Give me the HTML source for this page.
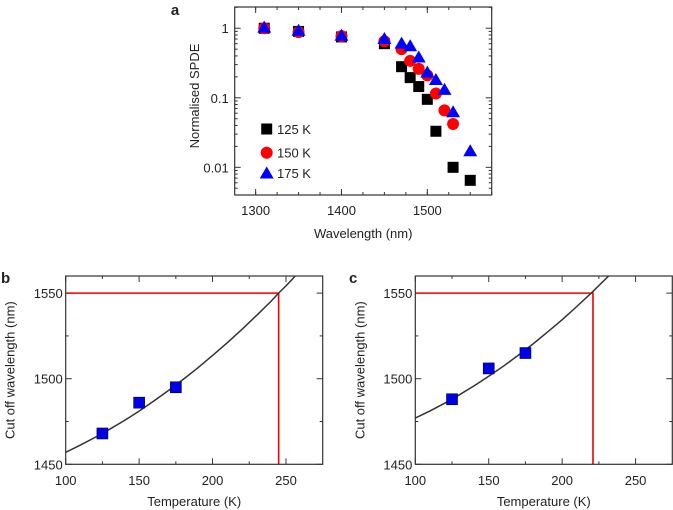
<!DOCTYPE html>
<html><head><meta charset="utf-8"><style>
body{margin:0;background:#fff;}
svg{display:block;font-family:"Liberation Sans",sans-serif;}
</style></head><body>
<svg id="s" width="673" height="510"></svg>
<script>
// Panel a data
const wlA=[1310,1350,1400,1450,1470,1480,1490,1500,1510,1530,1550];
const spde125=[1,0.9,0.75,0.6,0.28,0.195,0.145,0.095,0.033,0.01,0.0065];
const wlB=[1310,1350,1400,1450,1470,1480,1490,1500,1510,1520,1530];
const spde150=[1,0.88,0.77,0.65,0.5,0.34,0.26,0.21,0.115,0.066,0.042];
const wlC=[1310,1350,1400,1450,1470,1480,1490,1500,1510,1520,1530,1550];
const spde175=[1.02,0.92,0.78,0.7,0.6,0.55,0.38,0.23,0.18,0.13,0.062,0.017];
const xTicksA=[1300,1400,1500];
const yTicksA=[1,0.1,0.01];
const yTickLabelsA=["1","0.1","0.01"];
// Panel b data
const tempB=[125,150,175];
const cutB=[1468,1486,1495];
const fitTB=[100,110,120,130,140,150,160,170,180,190,200,210,220,230,240,245,250,260];
const fitWB=[1457,1461.2,1465.7,1470.5,1475.6,1481.1,1487,1493.1,1499.6,1506.4,1513.6,1521,1528.8,1537,1545.4,1550,1554.2,1563.4];
const targetTB=245;
// Panel c data
const tempC=[125,150,175];
const cutC=[1488,1506,1515];
const fitTC=[100,110,120,130,140,150,160,170,180,190,200,210,220,230,240];
const fitWC=[1477,1481.2,1485.7,1490.6,1495.8,1501.4,1507.3,1513.6,1520.2,1527.2,1534.5,1542.2,1550.2,1558.6,1567.3];
const targetTC=221;
const targetW=1550;
const xTicksT=[100,150,200,250];
const yTicksW=[1450,1500,1550];

const NS="http://www.w3.org/2000/svg";
const svg=document.getElementById('s');
function mk(tag,at,parent){const e=document.createElementNS(NS,tag);for(const k in at)e.setAttribute(k,at[k]);(parent||svg).appendChild(e);return e;}
function txt(x,y,s,anchor,size,parent,weight){const t=mk('text',{x:x,y:y,'text-anchor':anchor,'font-size':size,fill:'#222','font-weight':weight||'normal'},parent);t.textContent=s;return t;}

function frame(g,L,R,T,B){
  const r=mk('rect',{x:L,y:T,width:R-L,height:B-T,fill:'none',stroke:'#333','stroke-width':1.2},g);
  
}
function ticksX(g,vals,sx,T,B,len){vals.forEach(v=>{const x=sx(v);mk('line',{x1:x,y1:B,x2:x,y2:B-len,stroke:'#333'},g);mk('line',{x1:x,y1:T,x2:x,y2:T+len,stroke:'#333'},g);});}
function ticksY(g,vals,sy,L,R,len){vals.forEach(v=>{const y=sy(v);mk('line',{x1:L,y1:y,x2:L+len,y2:y,stroke:'#333'},g);mk('line',{x1:R,y1:y,x2:R-len,y2:y,stroke:'#333'},g);});}

// ---------- Panel a ----------
(function(){
  const g=mk('g',{});
  const L=234.7,R=491.7,T=7,B=195;
  const x0=1275.6,x1=1575,lg0=Math.log10(2.02),lg1=Math.log10(0.004);
  const sx=v=>L+(v-x0)/(x1-x0)*(R-L);
  const sy=v=>T+(lg0-Math.log10(v))/(lg0-lg1)*(B-T);
  frame(g,L,R,T,B);
  const minX=[];for(let v=1300;v<=1575;v+=25)minX.push(v);
  ticksX(g,minX,sx,T,B,3);ticksX(g,xTicksA,sx,T,B,6);
  const minY=[];[0.001,0.01,0.1,1].forEach(d=>{for(let k=2;k<10;k++){const v=d*k;if(v>0.004&&v<2.02)minY.push(v);}});
  ticksY(g,minY,sy,L,R,3);ticksY(g,yTicksA,sy,L,R,6);
  xTicksA.forEach(v=>{const t=txt(sx(v),215,String(v),'middle',13,g);});
  yTicksA.forEach((v,i)=>{const t=txt(L-6,sy(v)+5,yTickLabelsA[i],'end',13,g);});
  let t=txt((L+R)/2,238,'Wavelength (nm)','middle',13,g);
  t=txt(0,0,'Normalised SPDE','middle',13,g);t.setAttribute('transform','translate(199,'+((T+B)/2-5)+') rotate(-90)');
  t=txt(175,15,'a','middle',15,g,'bold');
  function sq(x,y,gg){const e=mk('rect',{x:x-5.5,y:y-5.5,width:11,height:11,fill:'#000'},gg);}
  function ci(x,y,gg){const e=mk('circle',{cx:x,cy:y,r:6,fill:'#f00'},gg);}
  function tr(x,y,gg){const e=mk('polygon',{points:`${x},${y-7} ${x-7},${y+5} ${x+7},${y+5}`,fill:'#00f'},gg);}
  wlA.forEach((w,i)=>sq(sx(w),sy(spde125[i]),g));
  wlB.forEach((w,i)=>ci(sx(w),sy(spde150[i]),g));
  wlC.forEach((w,i)=>tr(sx(w),sy(spde175[i]),g));
  const lg=mk('g',{},g);
  sq(266.7,129,lg);ci(266.7,152.7,lg);tr(266.7,173.5,lg);
  txt(277,134,'125 K','start',13,lg);txt(277,157.5,'150 K','start',13,lg);txt(277,178,'175 K','start',13,lg);
})();

// ---------- Panels b & c ----------
function panelTemp(name,label,L,labelX,temps,cuts,fitT,fitW,target){
  const g=mk('g',{});
  const R=L+257,T=276,B=464.3;
  const sx=v=>L+(v-100)/175*(R-L);
  const sy=v=>B-(v-1450)/110*(B-T);
  const cp=mk('clipPath',{id:'cp'+label},g);mk('rect',{x:L,y:T,width:R-L,height:B-T},cp);
  const minX=[];for(let v=125;v<275;v+=50)minX.push(v);
  ticksX(g,minX,sx,T,B,3);ticksX(g,xTicksT,sx,T,B,6);
  ticksY(g,[1475,1525],sy,L,R,3);ticksY(g,yTicksW,sy,L,R,6);
  xTicksT.forEach(v=>{const t=txt(sx(v),485,String(v),'middle',13,g);});
  yTicksW.forEach(v=>{const t=txt(L-3,sy(v)+5,String(v),'end',13,g);});
  let t=txt((L+R)/2,506,'Temperature (K)','middle',13,g);
  t=txt(0,0,'Cut off wavelength (nm)','middle',13,g);t.setAttribute('transform','translate('+(L-51)+','+((T+B)/2)+') rotate(-90)');
  t=txt(labelX,283,label,'start',15,g,'bold');
  const red=mk('path',{d:`M${sx(100)},${sy(targetW)} H${sx(target)} V${sy(1450)}`,fill:'none',stroke:'#e00','stroke-width':1.6},g);
  
  const d=fitT.map((v,i)=>(i?'L':'M')+sx(v).toFixed(1)+','+sy(fitW[i]).toFixed(1)).join(' ');
  const fit=mk('path',{d:d,fill:'none',stroke:'#333','stroke-width':1.5,'clip-path':`url(#cp${label})`},g);
  
  temps.forEach((v,i)=>{const e=mk('rect',{x:sx(v)-5.5,y:sy(cuts[i])-5.5,width:11,height:11,fill:'#0000e6',stroke:'#003','stroke-width':0.6},g);});
  frame(g,L,R,T,B);
}
panelTemp('panel-b','b',65.7,1,tempB,cutB,fitTB,fitWB,targetTB);
panelTemp('panel-c','c',415.3,349,tempC,cutC,fitTC,fitWC,targetTC);
</script>
</body></html>
